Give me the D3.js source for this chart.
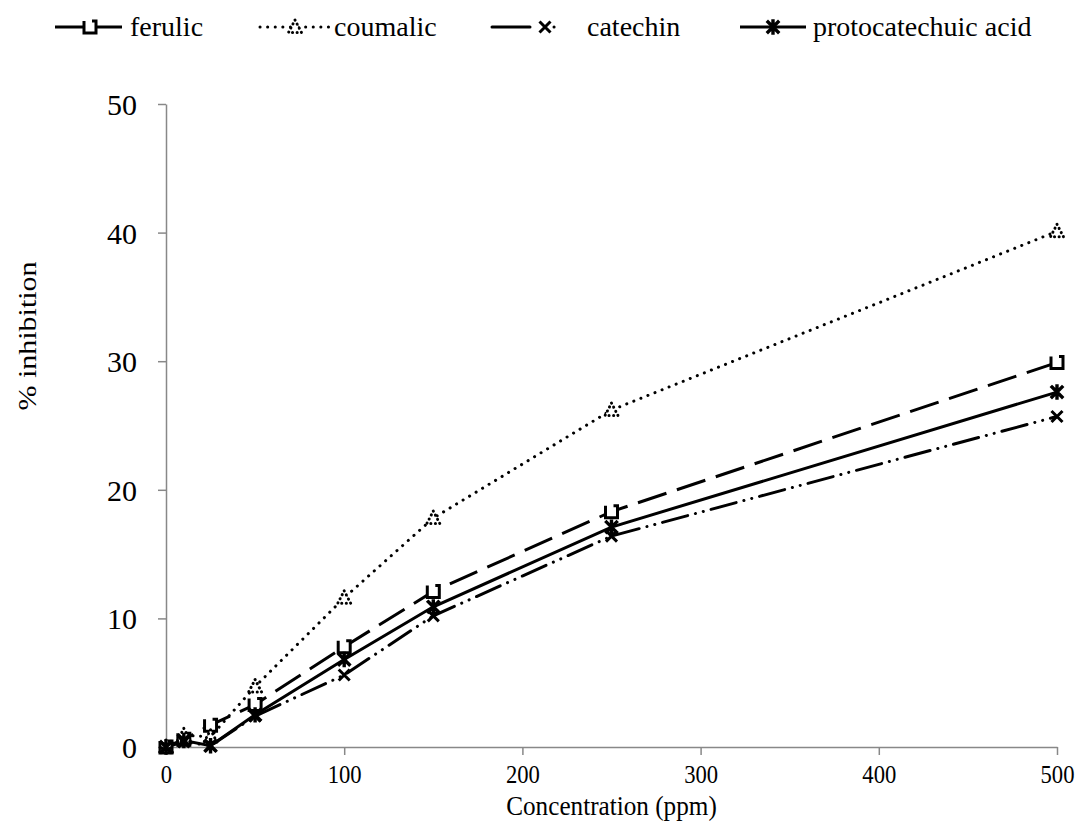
<!DOCTYPE html>
<html>
<head>
<meta charset="utf-8">
<script src="https://cdn.jsdelivr.net/npm/d3@7"></script>
<style>
  body { margin: 0; background: #fff; }
  text { font-family: "Liberation Serif", "Times New Roman", serif; fill: #000; }
</style>
</head>
<body>
<div id="chart"></div>
<script>
// concentrations (ppm) and % inhibition for each compound
var concentrations = [0, 10, 25, 50, 100, 150, 250, 500];
var ferulic = [0, 0.6, 1.7, 3.3, 7.8, 12.1, 18.3, 29.9];
var coumalic = [0, 0.9, 0.8, 4.7, 11.6, 17.8, 26.2, 40.1];
var catechin = [0, 0.4, 0.1, 2.4, 5.6, 10.2, 16.4, 25.7];
var protocatechuic = [0, 0.5, 0.1, 2.5, 6.8, 10.9, 17.1, 27.6];
var seriesNames = ["ferulic", "coumalic", "catechin", "protocatechuic acid"];
var xTicks = [0, 100, 200, 300, 400, 500];
var yTicks = [0, 10, 20, 30, 40, 50];

var width = 1082, height = 831;
var plotLeft = 166, plotRight = 1057, plotTop = 104, plotBottom = 747;

var svg = d3.select("#chart").append("svg")
  .attr("width", width)
  .attr("height", height);

var x = d3.scaleLinear().domain([0, 500]).range([plotLeft, plotRight]);
var y = d3.scaleLinear().domain([0, 50]).range([plotBottom, plotTop]);

// axes
var xAxis = svg.append("g")
  .attr("transform", "translate(0," + plotBottom + ")")
  .call(d3.axisBottom(x).tickValues(xTicks).tickSize(8).tickSizeOuter(0).tickPadding(10));
var yAxis = svg.append("g")
  .attr("transform", "translate(" + plotLeft + ",0)")
  .call(d3.axisLeft(y).tickValues(yTicks).tickSize(8).tickSizeOuter(0).tickPadding(21));

[xAxis, yAxis].forEach(function(a) {
  a.select(".domain").attr("stroke", "#888").attr("stroke-width", 1.5);
  a.selectAll(".tick line").attr("stroke", "#888").attr("stroke-width", 1.5);
  a.selectAll("text").attr("font-family", "Liberation Serif").attr("fill", "#000");
});
xAxis.selectAll("text").attr("font-size", 26).attr("dy", "0.71em")
  .attr("transform", "scale(0.87,1)");
yAxis.selectAll("text").attr("font-size", 30).attr("dy", "0.35em");

svg.append("text")
  .attr("transform", "translate(" + (plotLeft + plotRight) / 2 + ",815) scale(0.9,1)")
  .attr("text-anchor", "middle")
  .attr("font-size", 28)
  .text("Concentration (ppm)");

svg.append("text")
  .attr("transform", "translate(36,336) rotate(-90) scale(1,0.87)")
  .attr("text-anchor", "middle")
  .attr("font-size", 30)
  .text("% inhibition");

// series styles
var styles = [
  { data: ferulic, dash: "30,11", cap: "butt", marker: "square" },
  { data: coumalic, dash: "0.1,7.5", cap: "round", marker: "triangle" },
  { data: catechin, dash: "26,8,0.1,8,0.1,8", cap: "round", marker: "cross" },
  { data: protocatechuic, dash: null, cap: "butt", marker: "star" }
];

var markerPaths = {
  square: "M-6,-6V6H6V-6H2",
  triangle: "M0,-7L6.5,5.5H-6.5Z",
  cross: "M-5.5,-5.5L5.5,5.5M5.5,-5.5L-5.5,5.5",
  star: "M-5,-5L5,5M5,-5L-5,5M0,-6V6"
};

var line = d3.line()
  .x(function(d) { return x(d.x); })
  .y(function(d) { return y(d.y); });

styles.forEach(function(s) {
  var pts = concentrations.map(function(c, i) { return { x: c, y: s.data[i] }; });
  svg.append("path")
    .datum(pts)
    .attr("d", line)
    .attr("fill", "none")
    .attr("stroke", "#000")
    .attr("stroke-width", 3)
    .attr("stroke-linecap", s.cap)
    .attr("stroke-dasharray", s.dash);
});

function drawMarker(g, s, cx, cy) {
  var m = g.append("path")
    .attr("transform", "translate(" + cx + "," + cy + ")")
    .attr("d", markerPaths[s.marker])
    .attr("fill", s.marker == "square" ? "#fff" : "none")
    .attr("stroke", "#000")
    .attr("stroke-width", s.marker == "star" ? 3.4 : 3)
    .attr("stroke-linecap", s.marker == "star" ? "square" : "butt");
  if (s.marker == "triangle") {
    m.attr("stroke-dasharray", "0.1,4.5").attr("stroke-linecap", "round").attr("fill", "#fff");
  }
}

styles.forEach(function(s) {
  concentrations.forEach(function(c, i) {
    drawMarker(svg, s, x(c), y(s.data[i]));
  });
});

// legend
var legendY = 27;
var legendItems = [
  { x1: 55, x2: 122, mx: 90, tx: 130, dash: null },
  { x1: 260, x2: 330, mx: 295, tx: 334, dash: styles[1].dash },
  { x1: 492, x2: 565, mx: 545, tx: 587, dash: "38,24,0.1,100" },
  { x1: 740, x2: 806, mx: 773, tx: 813, dash: null }
];
legendItems.forEach(function(it, i) {
  var s = styles[i];
  svg.append("line")
    .attr("x1", it.x1).attr("x2", it.x2)
    .attr("y1", legendY).attr("y2", legendY)
    .attr("stroke", "#000")
    .attr("stroke-width", 3)
    .attr("stroke-linecap", s.cap)
    .attr("stroke-dasharray", it.dash);
  drawMarker(svg, s, it.mx, legendY);
  svg.append("text")
    .attr("x", it.tx)
    .attr("y", legendY)
    .attr("dy", "0.33em")
    .attr("font-size", 28)
    .text(seriesNames[i]);
});
</script>
</body>
</html>
